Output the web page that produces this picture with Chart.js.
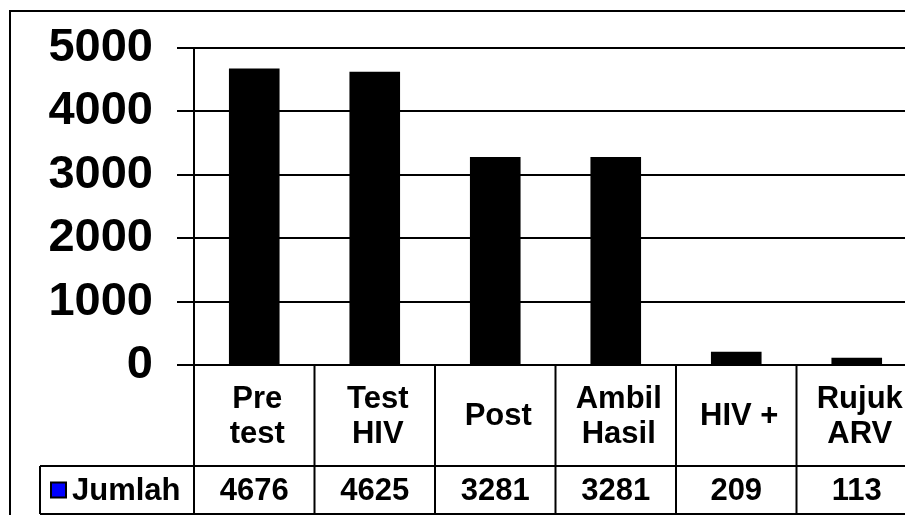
<!DOCTYPE html>
<html>
<head>
<meta charset="utf-8">
<script src="https://cdn.jsdelivr.net/npm/chart.js@4/dist/chart.umd.min.js"></script>
<style>
  html, body { margin: 0; padding: 0; background: #fff; overflow: hidden; }
  #wrap { position: relative; width: 930px; height: 515px; }
</style>
</head>
<body>
<div id="wrap"><canvas id="c" width="930" height="515"></canvas></div>
<script>
// Categories (each entry is the lines of the table header cell)
const categories = [["Pre", "test"], ["Test", "HIV"], ["Post"], ["Ambil", "Hasil"], ["HIV +"], ["Rujuk", "ARV"]];
// Series values
const seriesName = "Jumlah";
const jumlah = [4676, 4625, 3281, 3281, 209, 113];
// Y-axis ticks
const yTicks = [0, 1000, 2000, 3000, 4000, 5000];

const FONT = "'Liberation Sans', Arial, sans-serif";

// Draws the outer frame and the data table under the plot area
const tablePlugin = {
  id: 'dataTable',
  afterDraw(chart, args, opts) {
    const ctx = chart.ctx;
    const xs = chart.scales.x;
    const area = chart.chartArea;
    const step = xs.getPixelForValue(1) - xs.getPixelForValue(0);
    const top = area.bottom;
    const rowY = opts.rowY;
    const bottom = opts.bottom;
    const legendLeft = opts.legendLeft;
    const right = xs.getPixelForValue(categories.length - 1) + step / 2;

    ctx.save();
    ctx.strokeStyle = '#000';
    ctx.lineWidth = 2;

    // outer frame
    ctx.beginPath();
    ctx.moveTo(opts.frameX, chart.height + 5);
    ctx.lineTo(opts.frameX, opts.frameY);
    ctx.lineTo(chart.width + 5, opts.frameY);
    ctx.stroke();

    // horizontal table lines
    ctx.beginPath();
    ctx.moveTo(legendLeft, rowY); ctx.lineTo(right, rowY);
    ctx.moveTo(legendLeft, bottom); ctx.lineTo(right, bottom);
    ctx.moveTo(legendLeft, rowY); ctx.lineTo(legendLeft, bottom);
    // column separators
    for (let i = 0; i <= categories.length; i++) {
      const bx = xs.getPixelForValue(0) - step / 2 + i * step;
      ctx.moveTo(bx, top); ctx.lineTo(bx, bottom);
    }
    ctx.stroke();

    // header cells
    ctx.fillStyle = '#000';
    ctx.font = 'bold ' + opts.fontSize + 'px ' + FONT;
    ctx.textAlign = 'center';
    ctx.textBaseline = 'middle';
    const lh = opts.lineHeight;
    const headMid = (top + rowY) / 2;
    categories.forEach((lines, i) => {
      const cx = xs.getPixelForValue(i) + 3;
      const y0 = headMid - (lines.length - 1) * lh / 2;
      lines.forEach((t, k) => ctx.fillText(t, cx, y0 + k * lh + 1));
    });

    // value cells
    const valMid = (rowY + bottom) / 2 + 1;
    jumlah.forEach((v, i) => {
      ctx.fillText(String(v), xs.getPixelForValue(i), valMid);
    });

    // legend cell
    const boxX = legendLeft + 11, boxS = 15;
    const boxY = valMid - boxS / 2 - 1;
    ctx.fillStyle = '#0000ff';
    ctx.fillRect(boxX, boxY, boxS, boxS);
    ctx.lineWidth = 2;
    ctx.strokeRect(boxX, boxY, boxS, boxS);
    ctx.fillStyle = '#000';
    ctx.textAlign = 'left';
    ctx.fillText(seriesName, boxX + boxS + 6, valMid);
    ctx.restore();
  }
};

new Chart(document.getElementById('c'), {
  type: 'bar',
  data: {
    labels: categories,
    datasets: [{
      label: seriesName,
      data: jumlah,
      backgroundColor: '#000',
      borderWidth: 0,
      barPercentage: 0.42,
      categoryPercentage: 1
    }]
  },
  options: {
    responsive: false,
    animation: false,
    events: [],
    layout: { padding: { top: 48, right: 13, bottom: 150, left: 0 } },
    plugins: {
      legend: { display: false },
      tooltip: { enabled: false },
      dataTable: {
        frameX: 10, frameY: 11,
        rowY: 466, bottom: 514, legendLeft: 40,
        fontSize: 31, lineHeight: 35
      }
    },
    scales: {
      x: { display: false },
      y: {
        min: 0,
        max: 5000,
        afterBuildTicks(scale) { scale.ticks = yTicks.map(v => ({ value: v })); },
        afterFit(scale) {
          scale.width = 194;
          scale.paddingTop = 0;
          scale.paddingBottom = 0;
        },
        border: { display: true, color: '#000', width: 2 },
        grid: { color: '#000', lineWidth: 2, tickLength: 17, drawTicks: true },
        ticks: {
          color: '#000',
          padding: 24,
          callback: v => String(v),
          font: { family: FONT, size: 47, weight: 'bold' }
        }
      }
    }
  },
  plugins: [tablePlugin]
});
</script>
</body>
</html>
